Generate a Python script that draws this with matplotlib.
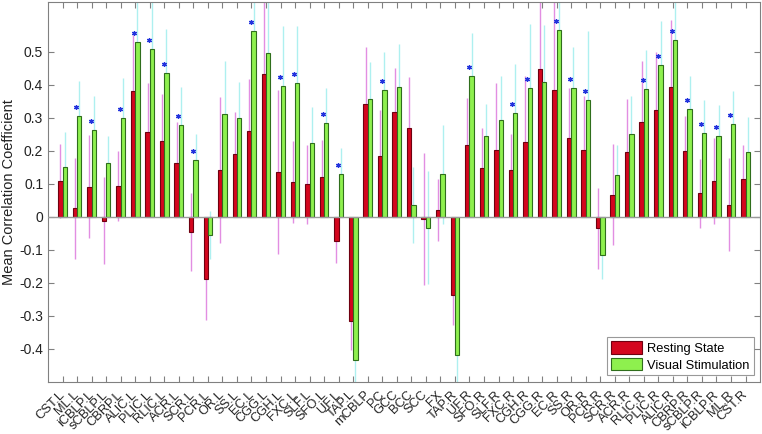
import matplotlib
matplotlib.use("Agg")
import matplotlib.pyplot as plt
import matplotlib.transforms as mtransforms
import numpy as np

plt.rcParams["font.family"] = ["Liberation Sans", "DejaVu Sans"]

TRACTS = [
    "CST.L", "ML.L", "iCBLP.L", "sCBLP.L", "CBRP.L", "ALIC.L", "PLIC.L", "RLIC.L",
    "ACR.L", "SCR.L", "PCR.L", "OR.L", "SS.L", "EC.L", "CGG.L", "CGH.L", "FXC.L",
    "SLF.L", "SFO.L", "UF.L", "TAP.L", "mCBLP", "PC", "GCC", "BCC", "SCC", "FX",
    "TAP.R", "UF.R", "SFO.R", "SLF.R", "FXC.R", "CGH.R", "CGG.R", "EC.R", "SS.R",
    "OR.R", "PCR.R", "SCR.R", "ACR.R", "RLIC.R", "PLIC.R", "ALIC.R", "CBRP.R",
    "sCBLP.R", "iCBLP.R", "ML.R", "CST.R",
]

rest_mean = [
    0.109, 0.025, 0.091, -0.012, 0.093, 0.381, 0.255, 0.228, 0.164, -0.046,
    -0.188, 0.142, 0.190, 0.260, 0.432, 0.136, 0.105, 0.098, 0.121, -0.073,
    -0.316, 0.342, 0.183, 0.318, 0.269, -0.008, 0.021, -0.238, 0.217, 0.148,
    0.203, 0.142, 0.225, 0.448, 0.385, 0.238, 0.203, -0.035, 0.067, 0.197,
    0.288, 0.323, 0.394, 0.199, 0.071, 0.109, 0.036, 0.115,
]
rest_err = [
    0.112, 0.152, 0.155, 0.132, 0.107, 0.170, 0.151, 0.143, 0.122, 0.118,
    0.126, 0.221, 0.126, 0.157, 0.250, 0.248, 0.125, 0.120, 0.112, 0.067,
    0.086, 0.172, 0.141, 0.133, 0.154, 0.200, 0.093, 0.090, 0.143, 0.119,
    0.203, 0.109, 0.201, 0.260, 0.290, 0.151, 0.161, 0.123, 0.152, 0.159,
    0.184, 0.175, 0.200, 0.106, 0.104, 0.130, 0.141, 0.103,
]
visual_mean = [
    0.150, 0.304, 0.263, 0.162, 0.298, 0.530, 0.508, 0.434, 0.277, 0.171,
    -0.055, 0.310, 0.298, 0.5625, 0.496, 0.396, 0.406, 0.223, 0.284, 0.130,
    -0.433, 0.355, 0.384, 0.392, 0.035, -0.034, 0.128, -0.419, 0.426, 0.245,
    0.293, 0.315, 0.391, 0.408, 0.566, 0.389, 0.354, -0.117, 0.127, 0.249,
    0.386, 0.459, 0.534, 0.327, 0.253, 0.245, 0.281, 0.196,
]
visual_err = [
    0.106, 0.108, 0.103, 0.081, 0.122, 0.150, 0.160, 0.133, 0.116, 0.080,
    0.073, 0.160, 0.110, 0.120, 0.170, 0.180, 0.172, 0.108, 0.105, 0.078,
    0.090, 0.112, 0.116, 0.130, 0.115, 0.171, 0.150, 0.100, 0.131, 0.096,
    0.133, 0.148, 0.193, 0.172, 0.120, 0.124, 0.208, 0.072, 0.089, 0.117,
    0.119, 0.134, 0.140, 0.099, 0.101, 0.093, 0.098, 0.107,
]
# tracts marked with * (significant difference)
significant = [
    "ML.L", "iCBLP.L", "CBRP.L", "ALIC.L", "PLIC.L", "RLIC.L", "ACR.L", "SCR.L",
    "EC.L", "CGH.L", "FXC.L", "SFO.L", "UF.L", "PC", "UF.R", "FXC.R", "CGH.R",
    "EC.R", "SS.R", "OR.R", "RLIC.R", "PLIC.R", "ALIC.R", "CBRP.R", "sCBLP.R",
    "iCBLP.R", "ML.R",
]

YTICKS = [-0.4, -0.3, -0.2, -0.1, 0, 0.1, 0.2, 0.3, 0.4, 0.5]
YTICKLABELS = ["-0.4", "-0.3", "-0.2", "-0.1", "0", "0.1", "0.2", "0.3", "0.4", "0.5"]

x = np.arange(1, len(TRACTS) + 1)
w = 0.3

fig = plt.figure(figsize=(7.62, 4.34), dpi=100)
ax = fig.add_axes([0.063, 0.12, 0.9345, 0.8755])

ax.errorbar(x - w / 2, rest_mean, yerr=rest_err, fmt="none", ecolor="#e28ee2",
            elinewidth=1.0, capsize=0, zorder=1)
ax.errorbar(x + w / 2, visual_mean, yerr=visual_err, fmt="none", ecolor="#aef0f0",
            elinewidth=1.0, capsize=0, zorder=1)
ax.bar(x - w / 2, rest_mean, w, color="#d4061e", edgecolor="#6e0010", lw=0.8,
       label="Resting State", zorder=2)
ax.bar(x + w / 2, visual_mean, w, color="#8ef04e", edgecolor="#2f6e1c", lw=0.8,
       label="Visual Stimulation", zorder=2)
ax.axhline(0, color="#9a9a9a", lw=1.0, zorder=3)

for i, name in enumerate(TRACTS):
    if name in significant:
        ax.plot(x[i] - 0.05, visual_mean[i] + 0.027, marker=(6, 2, 0), ms=3.5,
                mew=0.9, color="#2233dd", ls="none", zorder=4)

ax.set_xlim(0, 49)
ax.set_ylim(-0.5, 0.65)
ax.set_yticks(YTICKS)
ax.set_yticklabels(YTICKLABELS, fontsize=10)
ax.set_xticks(x)
ax.set_xticklabels(TRACTS, rotation=45, ha="right", va="center",
                   rotation_mode="anchor", fontsize=9.3)
shift = mtransforms.ScaledTranslation(-2.5 / 72, 0, fig.dpi_scale_trans)
for lbl in ax.get_xticklabels():
    lbl.set_transform(lbl.get_transform() + shift)
ax.tick_params(direction="in", top=True, right=True, length=4, color="#808080",
               labelcolor="#222222")
ax.tick_params(axis="x", pad=8)
for s in ax.spines.values():
    s.set_color("#808080")
ax.set_ylabel("Mean Correlation Coefficient", fontsize=10.5, color="#222222",
              labelpad=2)

leg = ax.legend(loc="lower right", fontsize=9.3, frameon=True, fancybox=False,
                edgecolor="#808080", borderaxespad=0.5, handlelength=2.4,
                handleheight=1.1, borderpad=0.3, labelspacing=0.25,
                handletextpad=0.4)
leg.get_frame().set_linewidth(0.8)

fig.savefig("out.png", dpi=100)
